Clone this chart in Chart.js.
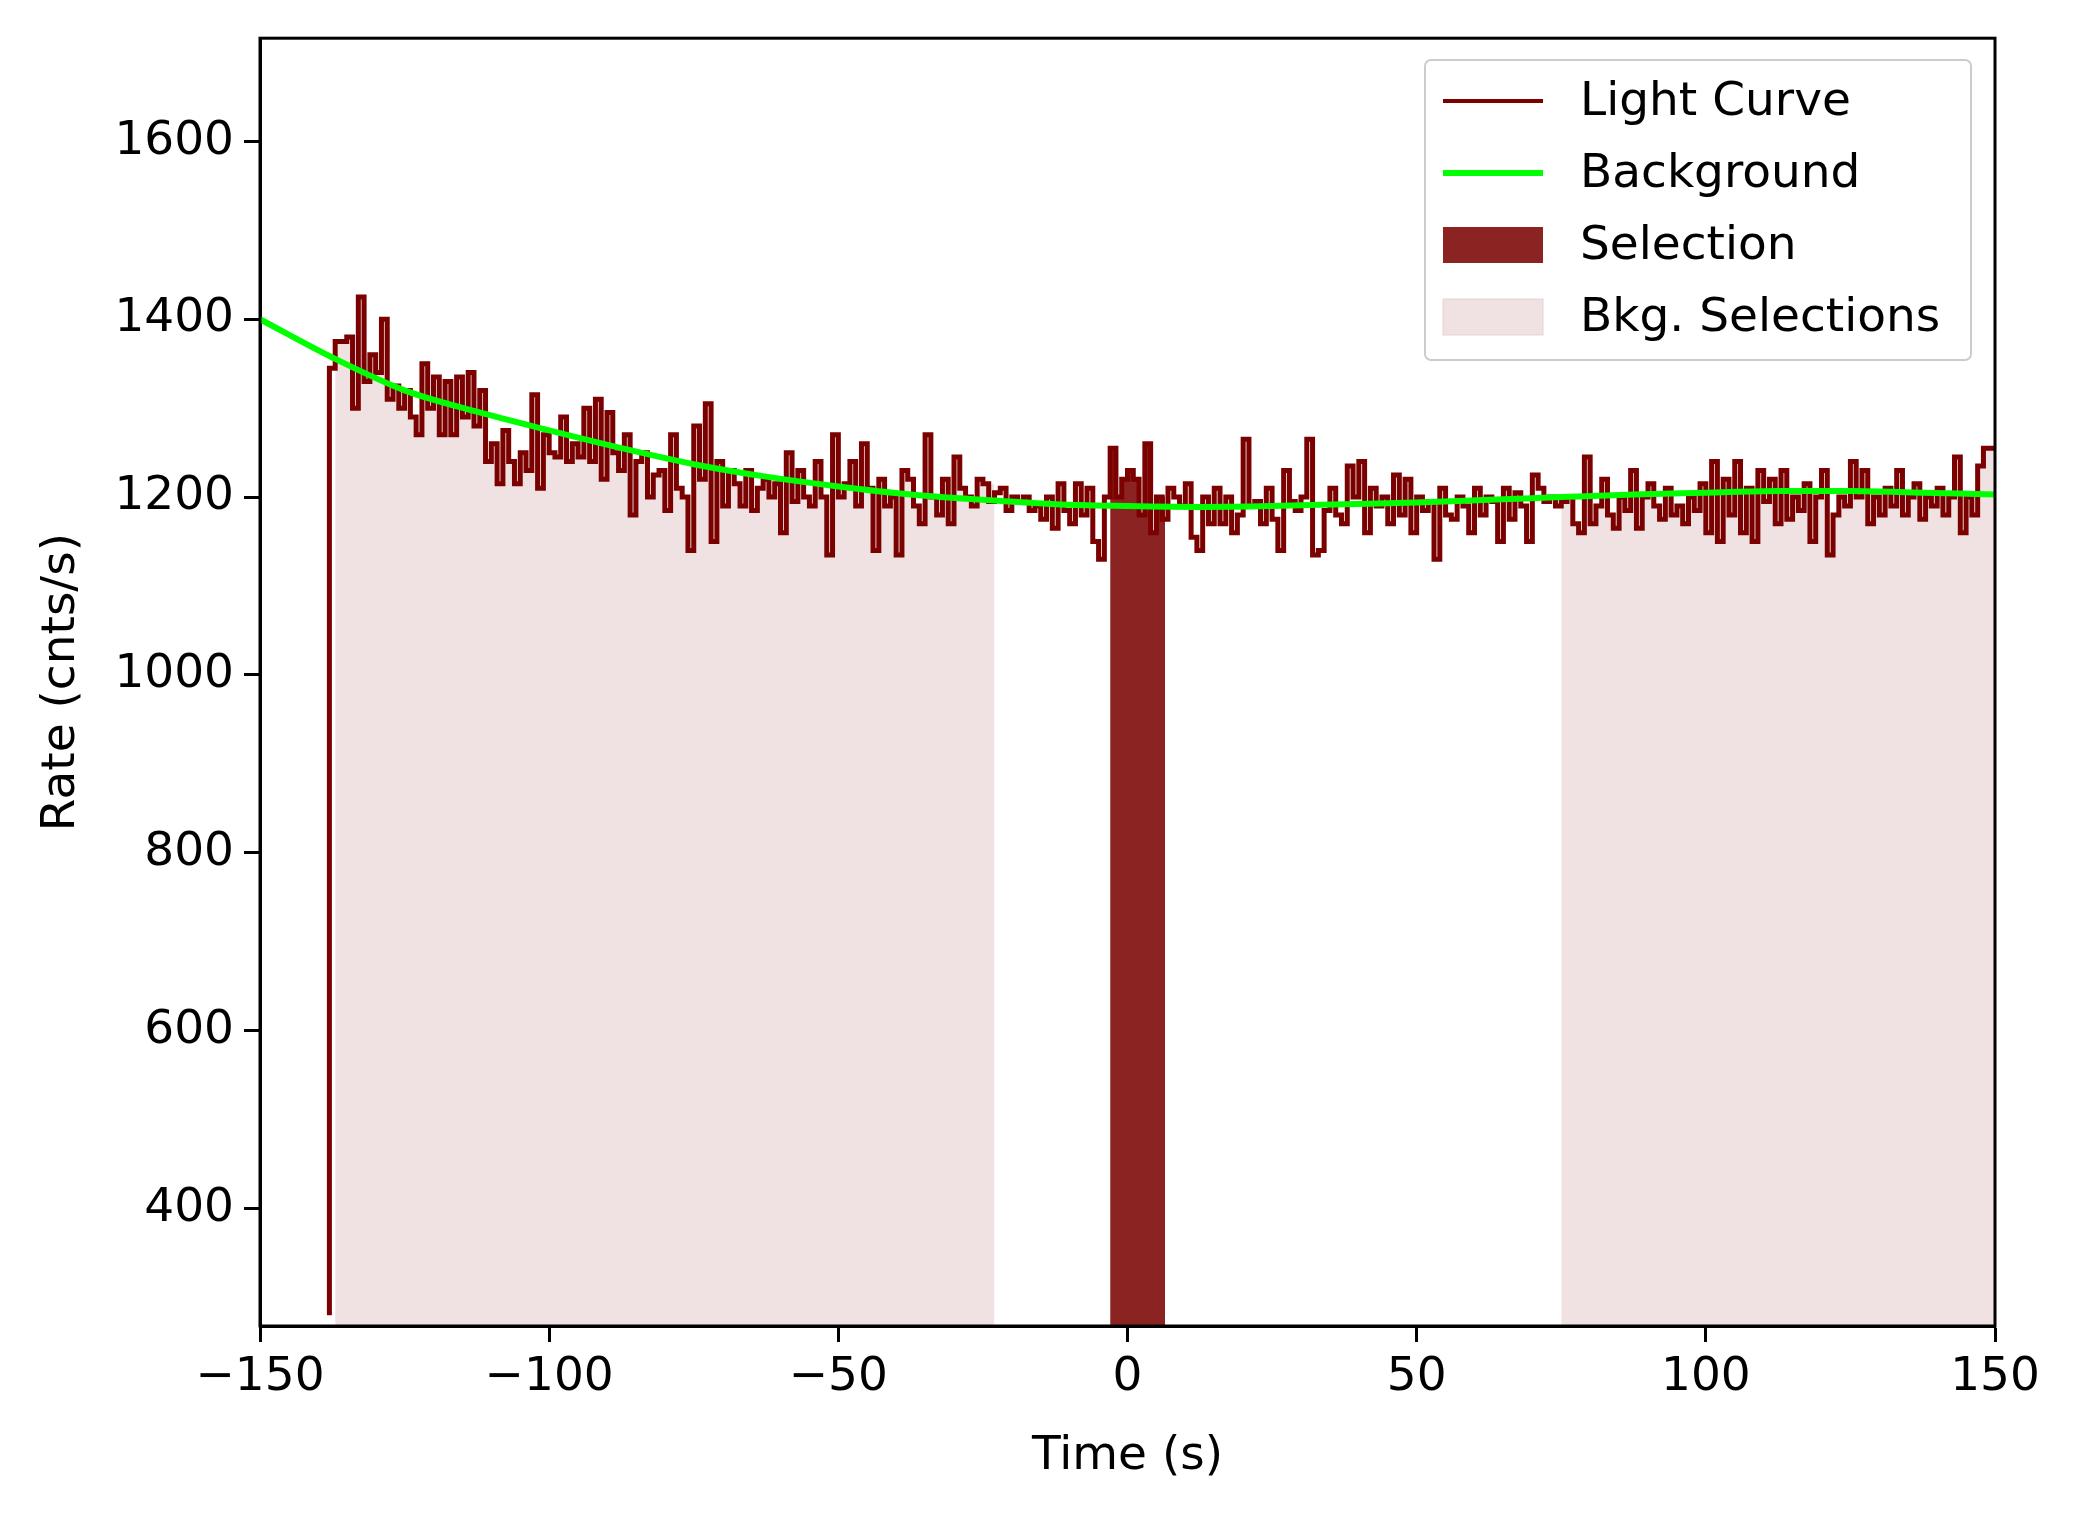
<!DOCTYPE html>
<html><head><meta charset="utf-8">
<script src="https://cdn.jsdelivr.net/npm/chart.js@4"></script>
<style>html,body{margin:0;padding:0;background:#fff}#w{width:2077px;height:1513px}</style>
</head><body><div id="w"><canvas id="c"></canvas></div>
<script>
const binStart = -138;
const binWidth = 1;
const rates = [280,1345,1375,1375,1380,1300,1425,1330,1360,1340,1400,1310,1325,1300,1320,1290,1270,1350,1300,1335,1270,1330,1270,1335,1290,1340,1280,1320,1240,1260,1215,1275,1240,1215,1250,1230,1315,1210,1270,1250,1245,1290,1240,1260,1245,1300,1240,1310,1220,1295,1250,1230,1270,1180,1240,1250,1200,1225,1230,1185,1270,1210,1200,1140,1280,1220,1305,1150,1240,1190,1230,1215,1190,1230,1185,1210,1220,1200,1215,1160,1250,1195,1230,1200,1190,1240,1200,1135,1270,1200,1215,1240,1190,1260,1210,1140,1220,1190,1200,1135,1230,1220,1190,1170,1270,1200,1180,1220,1170,1245,1210,1200,1190,1220,1215,1195,1205,1210,1185,1200,1195,1200,1185,1190,1175,1200,1165,1215,1185,1170,1215,1180,1210,1150,1130,1200,1255,1200,1220,1230,1220,1180,1260,1160,1200,1175,1210,1200,1190,1215,1155,1140,1200,1170,1210,1170,1200,1160,1180,1265,1190,1195,1170,1210,1175,1140,1230,1195,1185,1200,1265,1135,1140,1185,1210,1180,1170,1235,1200,1240,1160,1210,1190,1200,1170,1225,1180,1220,1160,1200,1185,1195,1130,1210,1180,1175,1200,1190,1160,1210,1180,1200,1195,1150,1210,1175,1205,1190,1150,1225,1210,1195,1200,1190,1195,1200,1170,1160,1245,1170,1190,1220,1180,1165,1200,1185,1230,1165,1200,1215,1190,1175,1210,1180,1190,1170,1200,1185,1215,1160,1240,1150,1220,1180,1240,1160,1210,1150,1230,1195,1220,1170,1230,1175,1200,1185,1215,1150,1200,1230,1135,1180,1200,1190,1240,1200,1230,1170,1200,1180,1210,1190,1230,1180,1200,1215,1175,1200,1190,1210,1180,1200,1245,1160,1200,1180,1235,1255];
const bkgTimes = [-150,-137.5,-125,-112.5,-100,-87.5,-75,-62.5,-50,-37.5,-25,-12.5,0,12.5,25,37.5,50,62.5,75,87.5,100,112.5,125,137.5,150];
const bkgRates = [1400,1357,1320,1296,1275,1255,1237,1223,1212,1203,1197,1192,1190,1189,1190,1192,1194,1197,1200,1203,1205,1207,1207,1205,1203];
const bkgIntervals = [[-137,-23],[75,150]];
const selInterval = [-3,6.5];
const xTicks = [-150,-100,-50,0,50,100,150];
const yTicks = [400,600,800,1000,1200,1400,1600];

const lc = rates.map((r,i)=>({x:binStart+i*binWidth,y:r}));
lc.push({x:binStart+rates.length*binWidth,y:rates[rates.length-1]});
function rateAt(t){let i=Math.floor((t-binStart)/binWidth);i=Math.max(0,Math.min(rates.length-1,i));return rates[i];}
function segment(a,b){const pts=[{x:a,y:rateAt(a)}];lc.forEach(p=>{if(p.x>a&&p.x<b)pts.push({x:p.x,y:p.y});});pts.push({x:b,y:rateAt(b-1e-6)});return pts;}

const ds=[];
bkgIntervals.forEach(iv=>ds.push({data:segment(iv[0],iv[1]),stepped:'after',fill:'origin',backgroundColor:'rgba(240,226,227,1)',borderWidth:0,pointRadius:0,order:4}));
ds.push({data:segment(selInterval[0],selInterval[1]),stepped:'after',fill:'origin',backgroundColor:'#8b2323',borderColor:'#8b2323',borderWidth:1,pointRadius:0,order:3});
ds.push({data:lc,stepped:'after',fill:false,borderColor:'#7b0000',borderWidth:5,pointRadius:0,order:2});
ds.push({data:bkgTimes.map((t,i)=>({x:t,y:bkgRates[i]})),cubicInterpolationMode:'monotone',fill:false,borderColor:'#00ff00',borderWidth:6,pointRadius:0,order:1});

const F='"DejaVu Sans"';
const FS=47;
const legendPlugin={id:'lg',afterDraw(ch){const c=ch.ctx;c.save();
 const x=1425,y=60,w=546,h=300;
 c.fillStyle='rgba(255,255,255,0.85)';c.strokeStyle='#cccccc';c.lineWidth=2;
 c.beginPath();c.roundRect(x,y,w,h,6);c.fill();c.stroke();
 const items=[['line','#7b0000',4,'Light Curve'],['line','#00ff00',6,'Background'],['box','#8b2323',0,'Selection'],['box','rgba(240,226,227,1)',0,'Bkg. Selections']];
 c.font=FS+'px '+F;c.textBaseline='middle';
 items.forEach((it,i)=>{const yy=101+i*72;
  if(it[0]==='line'){c.strokeStyle=it[1];c.lineWidth=it[2];c.beginPath();c.moveTo(1443,yy);c.lineTo(1543,yy);c.stroke();}
  else{c.fillStyle=it[1];c.fillRect(1443,yy-18,100,36);if(i===3){c.strokeStyle='rgba(230,200,203,0.8)';c.lineWidth=1;c.strokeRect(1443,yy-18,100,36);}}
  c.fillStyle='#000';c.fillText(it[3],1580,yy+2);});
 c.restore();}};

new Chart(document.getElementById('c'),{type:'line',data:{datasets:ds},
options:{responsive:true,maintainAspectRatio:false,animation:false,devicePixelRatio:1,
 layout:{padding:{left:0,right:82,top:30,bottom:0}},
 plugins:{legend:{display:false},tooltip:{enabled:false}},
 scales:{
  x:{type:'linear',min:-150,max:150,afterBuildTicks(s){s.ticks=xTicks.map(v=>({value:v}));},afterFit(s){s.height=187;},
   ticks:{color:'#000',font:{family:F,size:FS},padding:8,maxRotation:0,callback:v=>String(v).replace('-','\u2212')},
   grid:{drawOnChartArea:false,tickLength:16,color:'#000',tickWidth:3},border:{color:'#000',width:3},
   title:{display:true,text:'Time (s)',color:'#000',font:{family:F,size:FS},padding:{top:4,bottom:28}}},
  y:{min:268,max:1716,afterBuildTicks(s){s.ticks=yTicks.map(v=>({value:v}));},afterFit(s){s.width=260;},
   ticks:{color:'#000',font:{family:F,size:FS},padding:10,callback:v=>String(v)},
   grid:{drawOnChartArea:false,tickLength:16,color:'#000',tickWidth:3},border:{color:'#000',width:3},
   title:{display:true,text:'Rate (cnts/s)',color:'#000',font:{family:F,size:FS},padding:{top:34,bottom:8}}}
 }},
 plugins:[legendPlugin,{id:'frame',afterDraw(ch){const a=ch.chartArea,c=ch.ctx;c.save();c.strokeStyle='#000';c.lineWidth=3;c.strokeRect(a.left,a.top,a.right-a.left,a.bottom-a.top);c.restore();}}]
});
</script></body></html>
